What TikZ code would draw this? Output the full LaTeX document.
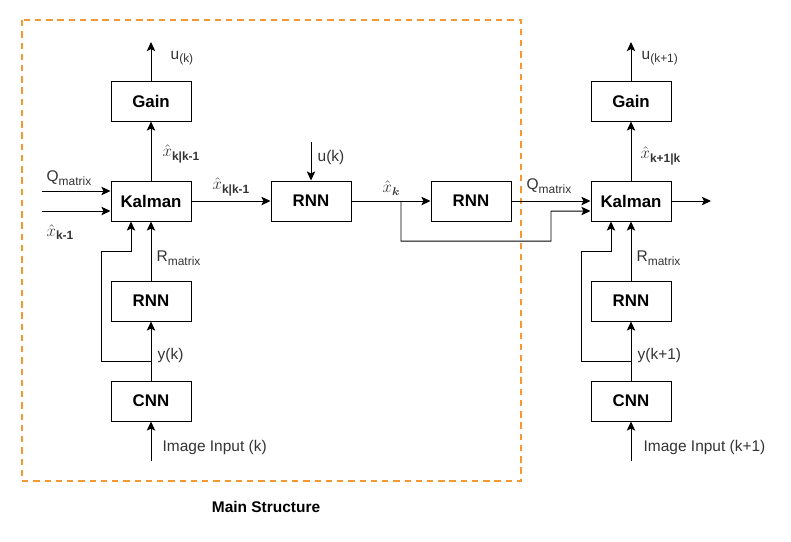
\documentclass[tikz,border=0pt]{standalone}
\usepackage{fontspec}
\usepackage{amsmath}
\usepackage{bm}
\setmainfont{Liberation Sans}
\usetikzlibrary{arrows.meta,calc}
\definecolor{frameorange}{RGB}{242,153,52}
\newcommand{\lsub}[1]{\raisebox{-0.45ex}{\fontsize{8.5}{10}\selectfont #1}}
\newcommand{\xhat}{{\fontsize{12.5}{14}\selectfont$\hat{x}$}}
\tikzset{
  blk/.style={draw, line width=0.7pt, minimum width=2cm, minimum height=1cm,
    font=\bfseries\fontsize{12}{14}\selectfont},
  lbl/.style={text=black!80, inner sep=1pt, font=\fontsize{11}{13}\selectfont},
  conn/.style={->, line width=0.7pt},
  >={Stealth[length=6.5pt,width=6pt,inset=1.5pt]}
}
\begin{document}
\begin{tikzpicture}
        \useasboundingbox (0,0) rectangle (19.775,-13.525);

        % Main Structure frame
        \draw[frameorange, line width=1.4pt, dash pattern=on 4.5pt off 3.5pt] (0.55,-0.5) rectangle (13.025,-12.025);
        \node[font=\bfseries\fontsize{11}{13}\selectfont] (mainlbl) at (6.65,-12.675) {Main Structure};

        % step k column
        \node[blk] (gainA) at (3.775,-2.525) {Gain};
        \node[blk] (kalA) at (3.775,-5.025) {Kalman};
        \node[blk] (rnnA) at (3.775,-7.525) {RNN};
        \node[blk] (cnnA) at (3.775,-10.025) {CNN};
        \coordinate (uA) at (3.775,-1.05);
        \coordinate (qA) at (1.05,-4.775);
        \coordinate (xA) at (1.05,-5.275);
        \coordinate (yA) at (3.775,-9.025);
        \coordinate (imgA) at (3.775,-11.525);

        \draw[conn] (gainA) -- (uA);
        \draw[conn] (kalA) -- (gainA);
        \draw[conn] (qA) -- (qA -| kalA.west);
        \draw[conn] (xA) -- (xA -| kalA.west);
        \draw[conn] (rnnA) -- (kalA);
        \draw[conn] (cnnA) -- (rnnA);
        \draw[conn] (imgA) -- (cnnA);
        \draw[conn] (yA) -- ++(-1.25,0) |- (3.275,-6.275) -- ($(kalA.south)+(-0.5,0)$);

        \node[lbl, anchor=west] (uAlbl) at (4.225,-1.45) {u\lsub{(k)}};
        \node[lbl, anchor=west] (xkkAlbl) at (4.025,-3.85) {\xhat\lsub{\bfseries k|k-1}};
        \node[lbl, anchor=west] (qAlbl) at (1.125,-4.45) {Q\lsub{matrix}};
        \node[lbl, anchor=west] (xAlbl) at (1.125,-5.8) {\xhat\lsub{\bfseries k-1}};
        \node[lbl, anchor=west] (rAlbl) at (3.875,-6.45) {R\lsub{matrix}};
        \node[lbl, anchor=west] (yAlbl) at (3.9,-8.875) {y(k)};
        \node[lbl, anchor=west] (imgAlbl) at (4.025,-11.175) {Image Input (k)};

        % prediction chain
        \node[blk] (rnnB) at (7.775,-5.025) {RNN};
        \node[blk] (rnnC) at (11.775,-5.025) {RNN};
        \coordinate (uB) at (7.775,-3.55);
        \coordinate (split) at (10.025,-5.025);

        \draw[conn] (kalA) -- (rnnB);
        \draw[conn] (uB) -- (rnnB);
        \draw[conn] (rnnB) -- (rnnC);

        \node[lbl] (xkBlbl) at (5.775,-4.675) {\xhat\lsub{\bfseries k|k-1}};
        \node[lbl, anchor=west] (uBlbl) at (7.9,-3.925) {u(k)};
        \node[lbl] (xkClbl) at (9.775,-4.7) {\xhat\lsub{$\bm{k}$}};

        % step k+1 column
        \node[blk] (gainD) at (15.775,-2.525) {Gain};
        \node[blk] (kalD) at (15.775,-5.025) {Kalman};
        \node[blk] (rnnD) at (15.775,-7.525) {RNN};
        \node[blk] (cnnD) at (15.775,-10.025) {CNN};
        \coordinate (uD) at (15.775,-1.05);
        \coordinate (outD) at (17.775,-5.025);
        \coordinate (yD) at (15.775,-9.025);
        \coordinate (imgD) at (15.775,-11.525);

        \draw[conn] (rnnC) -- (kalD);
        \draw[conn] (split) -- ++(0,-1) -| (13.775,-5.275) -- ($(kalD.west)+(0,-0.25)$);
        \draw[conn] (gainD) -- (uD);
        \draw[conn] (kalD) -- (gainD);
        \draw[conn] (kalD) -- (outD);
        \draw[conn] (rnnD) -- (kalD);
        \draw[conn] (cnnD) -- (rnnD);
        \draw[conn] (imgD) -- (cnnD);
        \draw[conn] (yD) -- ++(-1.25,0) |- (15.275,-6.275) -- ($(kalD.south)+(-0.5,0)$);

        \node[lbl, anchor=west] (qDlbl) at (13.125,-4.65) {Q\lsub{matrix}};
        \node[lbl, anchor=west] (uDlbl) at (16.0,-1.45) {u\lsub{(k+1)}};
        \node[lbl, anchor=west] (xkkDlbl) at (15.975,-3.9) {\xhat\lsub{\bfseries k+1|k}};
        \node[lbl, anchor=west] (rDlbl) at (15.875,-6.45) {R\lsub{matrix}};
        \node[lbl, anchor=west] (yDlbl) at (15.9,-8.875) {y(k+1)};
        \node[lbl, anchor=west] (imgDlbl) at (16.05,-11.175) {Image Input (k+1)};
\end{tikzpicture}
\end{document}
